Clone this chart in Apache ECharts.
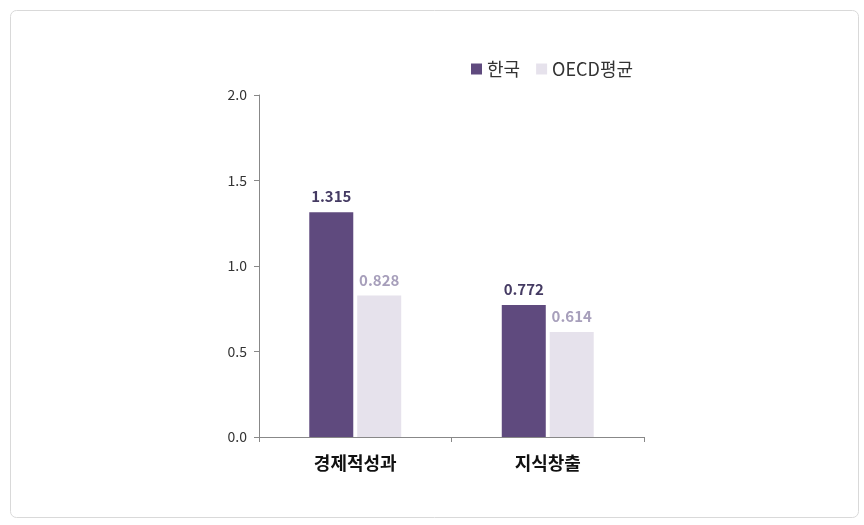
<!DOCTYPE html>
<html><head><meta charset="utf-8">
<script src="https://cdn.jsdelivr.net/npm/echarts@6/dist/echarts.min.js"></script>
<style>html,body{margin:0;padding:0;background:#fff}#c{width:864px;height:525px}</style>
</head><body><div id="c"></div>
<script>
const categories = ['경제적성과', '지식창출'];
const seriesNames = ['한국', 'OECD평균'];
const korea = [1.315, 0.772];
const oecd = [0.828, 0.614];
const yTicks = [0, 0.5, 1.0, 1.5, 2.0];

const chart = echarts.init(document.getElementById('c'));
const font = '"Malgun Gothic","Noto Sans CJK KR","Noto Sans",sans-serif';
chart.setOption({
  animation: false,
  textStyle: { fontFamily: font },
  graphic: [{
    type: 'rect', left: 8, top: 8,
    shape: { width: 848, height: 507, r: 6 },
    style: { fill: 'none', stroke: '#d9d9d9', lineWidth: 1 }
  }],
  legend: {
    top: 55, left: 466, itemWidth: 11, itemHeight: 11, itemGap: 16,
    icon: 'rect',
    textStyle: { fontSize: 18, color: '#333', fontFamily: font },
    data: seriesNames
  },
  grid: { left: 259, right: 220, top: 95, bottom: 88, containLabel: false },
  xAxis: {
    type: 'category', data: categories,
    axisLine: { lineStyle: { color: '#888' } },
    axisTick: { show: true, length: 5, lineStyle: { color: '#888' } },
    axisLabel: { fontSize: 18, fontWeight: 'bold', color: '#111', margin: 17 }
  },
  yAxis: {
    type: 'value', min: yTicks[0], max: yTicks[yTicks.length - 1], interval: 0.5,
    axisLine: { show: true, lineStyle: { color: '#888' } },
    axisTick: { show: true, length: 5, lineStyle: { color: '#888' } },
    splitLine: { show: false },
    axisLabel: { fontSize: 14, color: '#333', margin: 12, formatter: v => v.toFixed(1) }
  },
  series: [
    { name: seriesNames[0], type: 'bar', data: korea, barWidth: 44, barGap: '9%',
      itemStyle: { color: '#5f4a7e' },
      label: { show: true, position: 'top', distance: 8, fontSize: 15, fontWeight: 'bold', color: '#453b63', formatter: p => p.value.toFixed(3) } },
    { name: seriesNames[1], type: 'bar', data: oecd, barWidth: 44,
      itemStyle: { color: '#e6e2ec' },
      label: { show: true, position: 'top', distance: 8, fontSize: 15, fontWeight: 'bold', color: '#a79fbb', formatter: p => p.value.toFixed(3) } }
  ]
});
</script></body></html>
